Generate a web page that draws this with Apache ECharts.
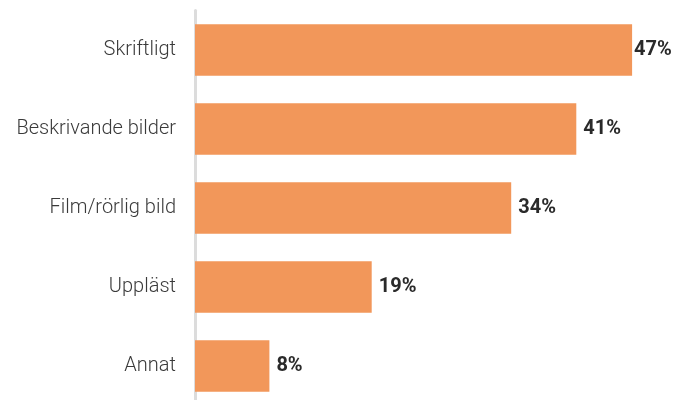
<!DOCTYPE html>
<html><head><meta charset="utf-8">
<script src="https://cdn.jsdelivr.net/npm/echarts@6/dist/echarts.min.js"></script>
<style>html,body{margin:0;padding:0;background:#fff}#c{width:677px;height:400px}</style>
</head><body><div id="c"></div>
<script>
const categories = ["Skriftligt", "Beskrivande bilder", "Film/rörlig bild", "Uppläst", "Annat"];
const values = [47, 41, 34, 19, 8];

const seriesData = values.map((v, i) => i === 0 ? {value: v, label: {distance: 2}} : v);

const chart = echarts.init(document.getElementById('c'), null, {renderer: 'canvas'});
chart.setOption({
  animation: false,
  backgroundColor: '#fff',
  grid: {left: 195, top: 10.5, width: 465, height: 395, containLabel: false, outerBoundsMode: 'none'},
  xAxis: {type: 'value', min: 0, max: 50, show: false},
  yAxis: {
    type: 'category', data: categories, inverse: true,
    axisLine: {show: true, lineStyle: {color: '#dcdcdc', width: 3}},
    axisTick: {show: false},
    axisLabel: {margin: 19, color: '#3a3a3a', fontSize: 20, fontWeight: 300, fontFamily: 'Roboto, sans-serif'}
  },
  series: [{
    type: 'bar', data: seriesData, barCategoryGap: '34.5%',
    itemStyle: {color: '#F2975A'},
    label: {show: true, position: 'right', distance: 7, formatter: '{c}%', fontWeight: 'bold', fontSize: 20, color: '#2a2a2a', fontFamily: 'Roboto, sans-serif'}
  }]
});
</script></body></html>
